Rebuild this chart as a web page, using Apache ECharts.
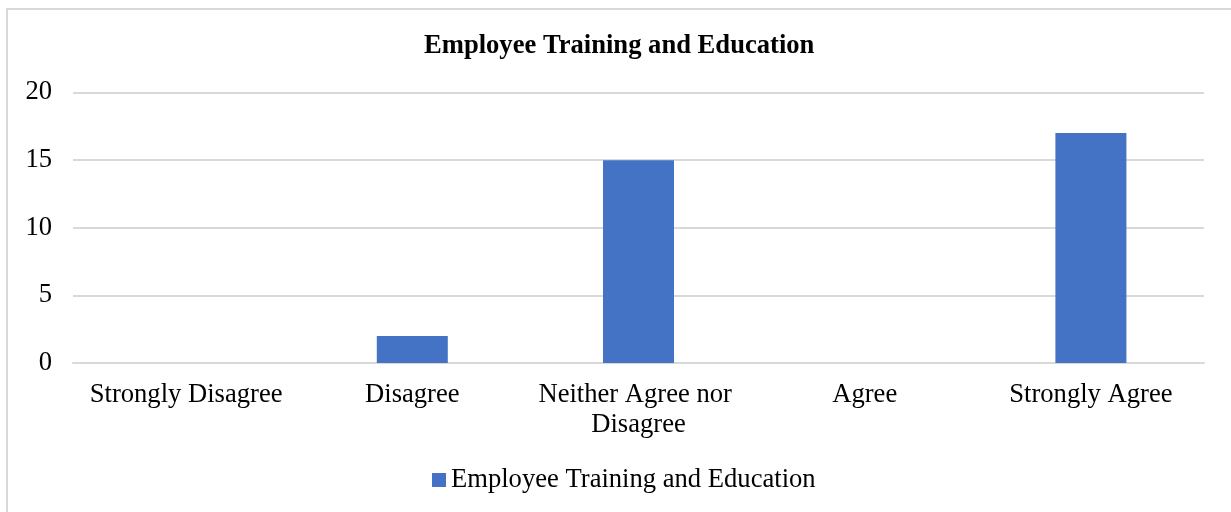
<!DOCTYPE html>
<html>
<head>
<meta charset="utf-8">
<script src="https://cdn.jsdelivr.net/npm/echarts@6/dist/echarts.min.js"></script>
<style>
  html, body { margin: 0; padding: 0; background: #fff; }
  #chart { width: 1231px; height: 512px; }
</style>
</head>
<body>
<div id="chart"></div>
<script>
// Survey responses: Employee Training and Education
const categories = ['Strongly Disagree', 'Disagree', 'Neither Agree nor Disagree', 'Agree', 'Strongly Agree'];
const counts = [0, 2, 15, 0, 17];
const seriesName = 'Employee Training and Education';
const chartTitle = 'Employee Training and Education';

const FONT = '"Liberation Serif", "Times New Roman", serif';
const FS = 26.6;

const chart = echarts.init(document.getElementById('chart'), null, { renderer: 'canvas' });

chart.setOption({
  backgroundColor: '#ffffff',
  animation: false,
  graphic: [{
    type: 'rect',
    silent: true,
    shape: { x: 7, y: 9, width: 1300, height: 600 },
    style: { fill: 'none', stroke: '#d9d9d9', lineWidth: 2 }
  }],
  title: {
    text: chartTitle,
    left: 424,
    top: 31,
    padding: 0,
    textStyle: { fontFamily: FONT, fontSize: FS, fontWeight: 'bold', color: '#000', lineHeight: 30 }
  },
  legend: {
    data: [seriesName],
    left: 432,
    top: 466,
    padding: 0,
    icon: 'rect',
    itemWidth: 14,
    itemHeight: 14,
    itemGap: 5,
    textStyle: { fontFamily: FONT, fontSize: FS, color: '#000', lineHeight: 28, padding: [0, 0, 0, 0] }
  },
  grid: { left: 73, right: 27, top: 92.5, bottom: 149, containLabel: false },
  xAxis: {
    type: 'category',
    data: categories,
    axisLine: { show: true, lineStyle: { color: '#d9d9d9', width: 2 } },
    axisTick: { show: false },
    axisLabel: {
      fontFamily: FONT, fontSize: FS, color: '#000', lineHeight: 30,
      margin: 17, width: 215, overflow: 'break', interval: 0
    }
  },
  yAxis: {
    type: 'value',
    min: 0,
    max: 20,
    interval: 5,
    axisLine: { show: false },
    axisTick: { show: false },
    splitLine: { lineStyle: { color: '#d9d9d9', width: 2 } },
    axisLabel: { fontFamily: FONT, fontSize: FS, color: '#000', margin: 21 }
  },
  series: [{
    name: seriesName,
    type: 'bar',
    data: counts,
    barWidth: 71,
    itemStyle: { color: '#4472c4' }
  }]
});
</script>
</body>
</html>
